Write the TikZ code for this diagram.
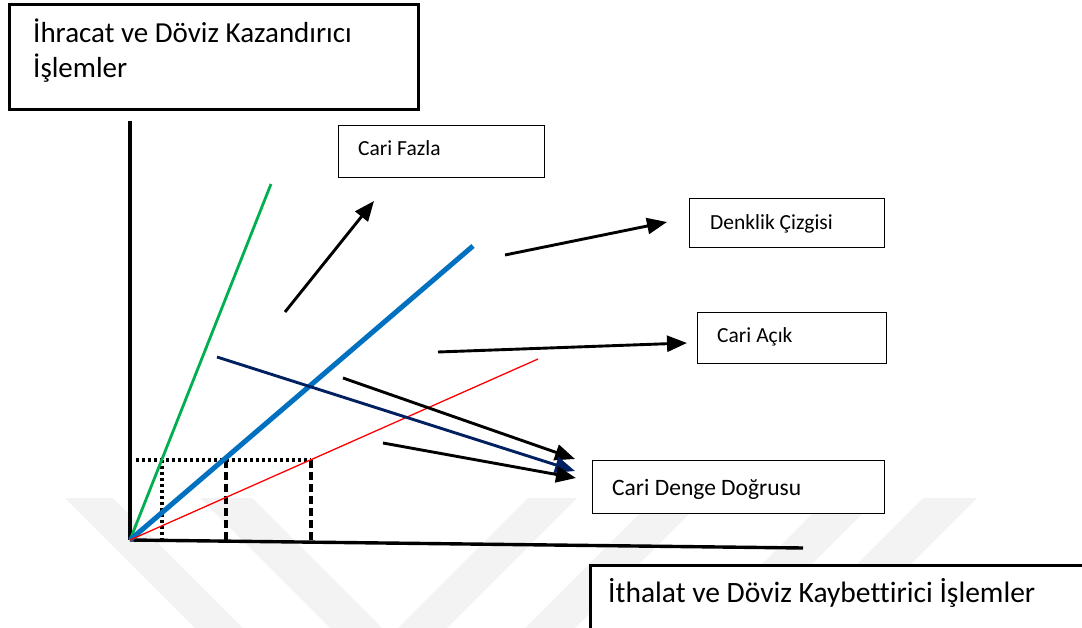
\documentclass[tikz,border=0pt]{standalone}
\usepackage{fontspec}
\setmainfont{Carlito}[Ligatures=NoCommon]
\usetikzlibrary{arrows.meta}
\definecolor{wmgray}{RGB}{243,243,243}
\definecolor{cgreen}{RGB}{0,176,80}
\definecolor{cblue}{RGB}{0,112,192}
\definecolor{cnavy}{RGB}{0,32,96}
\definecolor{cred}{RGB}{255,0,0}
\tikzset{
  bigbox/.style={draw=black, fill=white, line width=3pt, anchor=north west, inner sep=0pt},
  smallbox/.style={draw=black, fill=white, line width=1.4pt, anchor=north west, inner sep=0pt},
  bigtxt/.style={anchor=base west, inner sep=0pt, font=\fontsize{29}{35}\selectfont},
  smalltxt/.style={anchor=base west, inner sep=0pt, font=\fontsize{21.5}{26}\selectfont},
  arr/.style={line width=2.9pt, -{Triangle[length=20pt,width=16pt]}},
  wm/.style={fill=wmgray, draw=none},
  dotline/.style={line width=3.2pt, dash pattern=on 3pt off 3pt},
  dashline/.style={line width=3.4pt, dash pattern=on 8pt off 4pt}
}
\begin{document}
\begin{tikzpicture}[x={(1pt,0)}, y={(0,-1pt)}]
\useasboundingbox (0,0) rectangle (1082,628);
% watermark
\fill[wm] (65,498) -- (113,498) -- (243,628) -- (195,628) -- cycle;
\fill[wm] (200,498) -- (252,498) -- (382,628) -- (330,628) -- cycle;
\fill[wm] (528,498) -- (577,498) -- (447,628) -- (398,628) -- cycle;
\fill[wm] (655,498) -- (705,498) -- (575,628) -- (525,628) -- cycle;
\fill[wm] (828,498) -- (878,498) -- (748,628) -- (698,628) -- cycle;
\fill[wm] (923,498) -- (977,498) -- (847,628) -- (793,628) -- cycle;

% axes
\coordinate (O) at (130,540);
\coordinate (ytop) at (130,121);
\coordinate (xend) at (803,548);
\draw[line width=4.5pt] (ytop) -- (O);
\draw[line width=3.4pt] (O) -- (xend);

% guide lines
\coordinate (hL) at (136,460);
\coordinate (hR) at (311,460);
\coordinate (v1t) at (162,460);
\coordinate (v1b) at (162,540);
\coordinate (v2t) at (226,460);
\coordinate (v2b) at (226,541);
\coordinate (v3t) at (311,460);
\coordinate (v3b) at (311,542);
\draw[dotline] (hL) -- (hR);
\draw[dotline] (v1t) -- (v1b);
\draw[dashline] (v2t) -- (v2b);
\draw[dashline] (v3t) -- (v3b);

% rays
\coordinate (gEnd) at (271,184);
\coordinate (bEnd) at (473,246);
\coordinate (rEnd) at (538,359);
\draw[cgreen, line width=2.8pt] (O) -- (gEnd);
\draw[cblue, line width=5pt] (O) -- (bEnd);
\draw[cred, line width=1.3pt] (O) -- (rEnd);

% boxes
\node[bigbox, minimum width=409pt, minimum height=105pt] (ihr) at (8,3) {};
\node[bigtxt] (ihrt1) at (33,43) {İhracat ve Döviz Kazandırıcı};
\node[bigtxt] (ihrt2) at (33,78) {İşlemler};

\node[bigbox, line width=2.6pt, minimum width=500pt, minimum height=70pt] (ith) at (589,564) {};
\node[bigtxt, font=\fontsize{29.5}{35}\selectfont] (itht) at (608,602) {İthalat ve Döviz Kaybettirici İşlemler};

\node[smallbox, minimum width=206pt, minimum height=52pt] (fz) at (338,125) {};
\node[smalltxt] (fzt) at (358,156) {Cari Fazla};

\node[smallbox, minimum width=195pt, minimum height=49pt] (dk) at (689,198) {};
\node[smalltxt] (dkt) at (710,230) {Denklik Çizgisi};

\node[smallbox, minimum width=189pt, minimum height=51pt] (ca) at (697,312) {};
\node[smalltxt] (cat) at (717,343) {Cari Açık};

\node[smallbox, minimum width=292pt, minimum height=53pt] (cd) at (592,460) {};
\node[smalltxt, font=\fontsize{23.5}{28}\selectfont] (cdt) at (612,495) {Cari Denge Doğrusu};

% arrows
\coordinate (a1s) at (285,312);
\coordinate (a1e) at (374,201);
\draw[arr] (a1s) -- (a1e);

\coordinate (a2s) at (505,255);
\coordinate (a2e) at (667,222);
\draw[arr] (a2s) -- (a2e);

\coordinate (a3s) at (438,352);
\coordinate (a3e) at (687,343);
\draw[arr] (a3s) -- (a3e);

\coordinate (a4s) at (343,378);
\coordinate (a4e) at (575,459);
\draw[arr] (a4s) -- (a4e);

\coordinate (nvs) at (217,357);
\coordinate (nve) at (575,471);
\draw[arr, cnavy] (nvs) -- (nve);

\coordinate (a5s) at (383,443);
\coordinate (a5e) at (576,478);
\draw[arr] (a5s) -- (a5e);
\end{tikzpicture}
\end{document}
